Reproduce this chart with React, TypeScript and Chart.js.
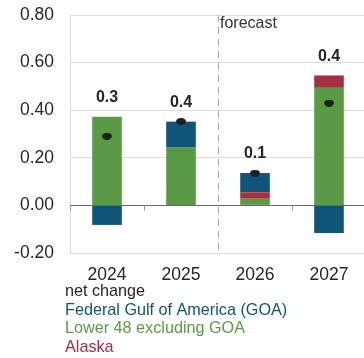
import React, { useEffect, useRef } from "react";
import { Chart, registerables } from "chart.js";

Chart.register(...registerables);

// Year-over-year change in U.S. crude oil production, million barrels per day
const years = ["2024", "2025", "2026", "2027"];
const lower48 = [0.373, 0.243, 0.028, 0.494];
const alaska = [0, 0, 0.027, 0.052];
const federalGoa = [-0.082, 0.109, 0.081, -0.116];
const netChange = [0.291, 0.353, 0.136, 0.43];
const yTicks = [-0.2, 0, 0.2, 0.4, 0.6, 0.8];
const forecastStartIndex = 2;

const GREEN = "#5b9a45";
const BLUE = "#0f5479";
const RED = "#a62f40";
const DARK = "#262626";
const FONT = "'Liberation Sans', Arial, Helvetica, sans-serif";

// Legend rows (label, colour), top to bottom
const legendLabels = ["net change", "Federal Gulf of America (GOA)", "Lower 48 excluding GOA", "Alaska"];
const legendColors = [DARK, BLUE, GREEN, RED];

function makeDot(): HTMLCanvasElement {
  const c = document.createElement("canvas");
  c.width = 10;
  c.height = 7;
  const g = c.getContext("2d")!;
  g.fillStyle = "#1f1f1f";
  g.beginPath();
  g.ellipse(5, 3.5, 5, 3.5, 0, 0, Math.PI * 2);
  g.fill();
  return c;
}

const overlayPlugin = {
  id: "overlay",
  beforeDatasetsDraw(chart: any) {
    const { ctx, chartArea, scales } = chart;
    const x = scales.x;
    const xf = (x.getPixelForValue(forecastStartIndex - 1) + x.getPixelForValue(forecastStartIndex)) / 2;
    ctx.save();
    ctx.strokeStyle = "#a8a8a8";
    ctx.lineWidth = 1;
    ctx.setLineDash([7, 5]);
    ctx.beginPath();
    ctx.moveTo(Math.round(xf) + 0.5, chartArea.top);
    ctx.lineTo(Math.round(xf) + 0.5, chartArea.bottom);
    ctx.stroke();
    ctx.setLineDash([]);
    ctx.fillStyle = "#333";
    ctx.font = `16px ${FONT}`;
    ctx.textAlign = "left";
    ctx.textBaseline = "middle";
    ctx.fillText("forecast", xf + 2, chartArea.top + 9);
    ctx.restore();
  },
  afterDatasetsDraw(chart: any) {
    const { ctx, chartArea, scales } = chart;
    const x = scales.x;
    const y = scales.y;
    const zeroY = Math.round(y.getPixelForValue(0)) + 0.5;
    ctx.save();
    // zero line with category-boundary tick marks
    ctx.strokeStyle = "#6a6a6a";
    ctx.lineWidth = 1;
    ctx.beginPath();
    ctx.moveTo(chartArea.left, zeroY);
    ctx.lineTo(chartArea.right, zeroY);
    ctx.stroke();
    ctx.strokeStyle = "#9a9a9a";
    ctx.beginPath();
    for (let i = 0; i <= years.length; i++) {
      const bx = Math.round(x.getPixelForValue(i - 0.5)) + 0.5;
      if (i === forecastStartIndex) continue;
      ctx.moveTo(bx, zeroY);
      ctx.lineTo(bx, zeroY + 5);
    }
    ctx.stroke();
    ctx.restore();
  },
  afterDraw(chart: any) {
    const { ctx, scales } = chart;
    const x = scales.x;
    const y = scales.y;
    ctx.save();
    // net change value labels above the positive stack
    ctx.fillStyle = DARK;
    ctx.font = `bold 16px ${FONT}`;
    ctx.textAlign = "center";
    ctx.textBaseline = "middle";
    years.forEach((_, i) => {
      const posTop = [lower48[i], alaska[i], federalGoa[i]].filter((v) => v > 0).reduce((a, b) => a + b, 0);
      const px = x.getPixelForValue(i);
      const py = y.getPixelForValue(posTop) - 19;
      ctx.fillText(netChange[i].toFixed(1), px, py);
    });
    // legend
    ctx.font = `16.2px ${FONT}`;
    ctx.textAlign = "left";
    legendLabels.forEach((lab, i) => {
      ctx.fillStyle = legendColors[i];
      ctx.fillText(lab, 65, 292 + i * 18.5);
    });
    ctx.restore();
  },
};

export default function App() {
  const ref = useRef<HTMLCanvasElement | null>(null);

  useEffect(() => {
    if (!ref.current) return;
    const dot = makeDot();
    const chart = new Chart(ref.current, {
      type: "bar",
      data: {
        labels: years,
        datasets: [
          { type: "bar", label: "Lower 48 excluding GOA", data: lower48, backgroundColor: GREEN, stack: "prod", order: 2 },
          { type: "bar", label: "Alaska", data: alaska, backgroundColor: RED, stack: "prod", order: 2 },
          { type: "bar", label: "Federal Gulf of America (GOA)", data: federalGoa, backgroundColor: BLUE, stack: "prod", order: 2 },
          {
            type: "line",
            label: "net change",
            data: netChange,
            stack: "net",
            showLine: false,
            pointStyle: dot as any,
            pointRadius: 5,
            order: 0,
          } as any,
        ],
      },
      options: {
        responsive: false,
        animation: false,
        devicePixelRatio: 1,
        datasets: { bar: { categoryPercentage: 1, barPercentage: 0.4 } },
        layout: { padding: { top: 15, left: 0, right: 0, bottom: 0 } },
        plugins: { legend: { display: false }, tooltip: { enabled: false } },
        scales: {
          x: {
            stacked: true,
            grid: { display: false },
            border: { display: false },
            ticks: { color: DARK, font: { family: FONT, size: 17.5 }, padding: 4 },
            afterFit: (s: any) => {
              s.height = 105;
              s.paddingLeft = 0;
              s.paddingRight = 0;
            },
          },
          y: {
            stacked: true,
            min: yTicks[0],
            max: yTicks[yTicks.length - 1],
            afterBuildTicks: (s: any) => {
              s.ticks = yTicks.map((v) => ({ value: v }));
            },
            grid: { color: "#dcdcdc", lineWidth: 1, drawTicks: false },
            border: { display: true, color: "#dcdcdc" },
            ticks: {
              color: DARK,
              font: { family: FONT, size: 17.5 },
              padding: 16,
              callback: (v: any) => Number(v).toFixed(2),
            },
            afterFit: (s: any) => {
              s.width = 70;
              s.paddingTop = 0;
              s.paddingBottom = 0;
            },
          },
        },
      },
      plugins: [overlayPlugin],
    });
    return () => chart.destroy();
  }, []);

  return (
    <div style={{ position: "fixed", left: 0, top: 0, width: 364, height: 358, overflow: "hidden", background: "#fff" }}>
      <canvas ref={ref} width={372} height={358} style={{ display: "block", width: 372, height: 358 }} />
    </div>
  );
}
